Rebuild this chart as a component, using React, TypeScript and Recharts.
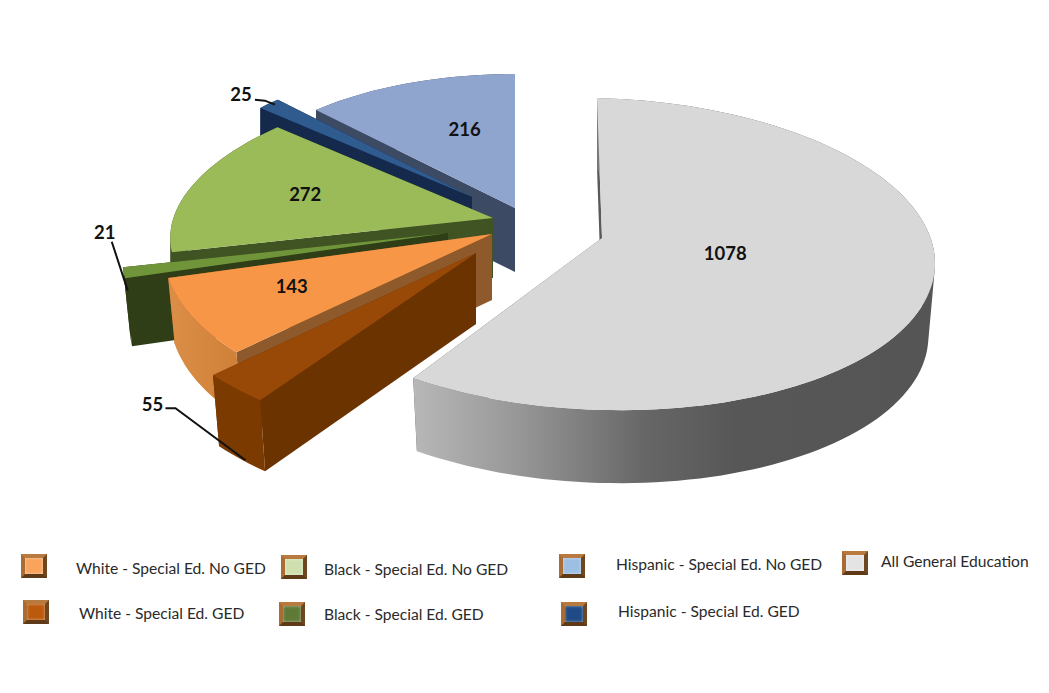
import React from 'react';
import { PieChart, Pie, Legend } from 'recharts';

// ---- data ----
const names = [
  'Hispanic - Special Ed. No GED',
  'Hispanic - Special Ed. GED',
  'Black - Special Ed. No GED',
  'Black - Special Ed. GED',
  'White - Special Ed. No GED',
  'White - Special Ed. GED',
  'All General Education',
];
const values = [216, 25, 272, 21, 143, 55, 1078];
const tableData = names.map((name, i) => ({ name, value: values[i] }));

// ---- 3D look: one projection per slice, applied to the angles the library computes ----
type Proj = {
  ax: number; ay: number; // slice tip
  cx: number; cy: number; // rim centre
  rx: number; ry: number; sx: number; sy: number; // rim ellipse and shear
  depth: number; bs: number; // wall height, foot scale
  top: string; side: string; rim: string;
};
const projections: Proj[] = [
  { ax: 515, ay: 208, cx: 515, cy: 208, rx: 292, ry: 134, sx: 0, sy: 0, depth: 64, bs: 1, top: '#8fa5ce', side: '#3c4a63', rim: '#3c4a63' },
  { ax: 472, ay: 197, cx: 472, cy: 197, rx: 285, ry: 133, sx: 0, sy: 0, depth: 60, bs: 1, top: '#2f5b8f', side: '#14294b', rim: '#14294b' },
  { ax: 493, ay: 218, cx: 493, cy: 218, rx: 321, ry: 141, sx: 34, sy: -5, depth: 60, bs: 1, top: '#9bbb59', side: '#3f5323', rim: '#3f5323' },
  { ax: 448, ay: 233, cx: 448, cy: 233, rx: 321, ry: 155, sx: 53, sy: -2, depth: 68, bs: 0.978, top: '#6f9439', side: '#2f3e17', rim: '#2f3e17' },
  { ax: 492, ay: 234, cx: 492, cy: 234, rx: 328, ry: 172.5, sx: 31.7, sy: 4.3, depth: 66, bs: 0.98, top: '#f79646', side: '#8f5a2b', rim: 'url(#orangeWall)' },
  { ax: 476, ay: 253, cx: 476, cy: 253, rx: 344, ry: 188, sx: 26, sy: 14, depth: 71, bs: 0.977, top: '#984807', side: '#6b3300', rim: '#7a3a00' },
  { ax: 602, ay: 238, cx: 600, cy: 254, rx: 335, ry: 156, sx: -3, sy: 8, depth: 73, bs: 0.98, top: '#d8d8d8', side: '#5a5a5a', rim: 'url(#grayWall)' },
];

type LabelSpec = { f: number; dx: number; dy: number; leader?: [number, number][] };
const labelSpecs: LabelSpec[] = [
  { f: 0.63, dx: 17, dy: 0 },
  { f: 1, dx: -28, dy: -10, leader: [[-14, -4], [-4, -3], [6, 1]] },
  { f: 0.62, dx: -1, dy: -4 },
  { f: 1, dx: -19, dy: -41, leader: [[-12, -31], [4, 18]] },
  { f: 0.67, dx: 0, dy: -4 },
  { f: 1, dx: -83, dy: 16, leader: [[-70, 20], [-60, 20], [10, 72]] },
  { f: 0.38, dx: 2, dy: -12 },
];

const legendBoxes: Record<string, { bx: number; by: number; tx: number; ty: number; fill: string }> = {
  'White - Special Ed. No GED': { bx: 21, by: 554, tx: 76, ty: 568, fill: '#f9a45c' },
  'Black - Special Ed. No GED': { bx: 281, by: 555, tx: 324, ty: 569, fill: '#cfe0ae' },
  'Hispanic - Special Ed. No GED': { bx: 559, by: 554, tx: 616, ty: 564, fill: '#9dbfe3' },
  'All General Education': { bx: 842, by: 551, tx: 881, ty: 561, fill: '#e4e4e4' },
  'White - Special Ed. GED': { bx: 23, by: 600, tx: 79, ty: 613, fill: '#bb5a0c' },
  'Black - Special Ed. GED': { bx: 279, by: 602, tx: 324, ty: 614, fill: '#5f7a37' },
  'Hispanic - Special Ed. GED': { bx: 561, by: 602, tx: 618, ty: 611, fill: '#1f4a85' },
};

const FONT = 'Lato, "Noto Sans", sans-serif';
const RAD = Math.PI / 180;

function rimPoint(p: Proj, deg: number, f = 1): [number, number] {
  const c = Math.cos(deg * RAD);
  const s = Math.sin(deg * RAD);
  return [
    p.ax + (p.cx - p.ax) * f + (p.rx * c + p.sx * s) * f,
    p.ay + (p.cy - p.ay) * f + (-p.ry * s + p.sy * c) * f,
  ];
}
function foot(p: Proj, pt: [number, number]): [number, number] {
  return [p.ax + (pt[0] - p.ax) * p.bs, pt[1] + p.depth];
}
function toPath(pts: [number, number][]) {
  return pts.map((q, i) => `${i ? 'L' : 'M'}${q[0].toFixed(1)} ${q[1].toFixed(1)}`).join(' ') + ' Z';
}
// The wall folds at the rim's extreme, so each strip is wound the same way to keep it filled.
function wallPath(p: Proj, rim: [number, number][]) {
  const parts: string[] = [];
  for (let i = 0; i + 1 < rim.length; i++) {
    const quad: [number, number][] = [rim[i], rim[i + 1], foot(p, rim[i + 1]), foot(p, rim[i])];
    let area = 0;
    quad.forEach((q, k) => {
      const r = quad[(k + 1) % 4];
      area += q[0] * r[1] - r[0] * q[1];
    });
    parts.push(toPath(area < 0 ? [...quad].reverse() : quad));
  }
  return parts.join(' ');
}

function Slice3D(props: any) {
  const idx = names.indexOf(props.name ?? props.payload?.name);
  const p = projections[idx];
  if (!p) return null;
  const a0 = props.startAngle as number;
  const a1 = props.endAngle as number;
  const n = Math.max(2, Math.ceil(Math.abs(a1 - a0) / 2));
  const rim: [number, number][] = [];
  for (let i = 0; i <= n; i++) rim.push(rimPoint(p, a0 + ((a1 - a0) * i) / n));
  const apex: [number, number] = [p.ax, p.ay];
  const footApex = foot(p, apex);
  const first = rim[0];
  const last = rim[rim.length - 1];
  return (
    <g>
      <defs>
        <linearGradient id="grayWall" gradientUnits="userSpaceOnUse" x1="411" y1="0" x2="935" y2="0">
          <stop offset="0" stopColor="#b8b8b8" />
          <stop offset="0.2" stopColor="#989898" />
          <stop offset="0.45" stopColor="#666666" />
          <stop offset="0.62" stopColor="#575757" />
          <stop offset="1" stopColor="#555555" />
        </linearGradient>
        <linearGradient id="orangeWall" gradientUnits="userSpaceOnUse" x1="165" y1="0" x2="240" y2="0">
          <stop offset="0" stopColor="#dc8f48" />
          <stop offset="1" stopColor="#cf8038" />
        </linearGradient>
      </defs>
      <path d={toPath([first, apex, footApex, foot(p, first)])} fill={p.side} />
      <path d={toPath([last, apex, footApex, foot(p, last)])} fill={p.side} />
      <path d={wallPath(p, rim)} fill={p.rim} />
      <path d={toPath([apex, ...rim])} fill={p.top} />
    </g>
  );
}

function SliceLabel(props: any) {
  const idx = names.indexOf(props.name ?? props.payload?.name);
  const p = projections[idx];
  const spec = labelSpecs[idx];
  if (!p || !spec) return null;
  const mid = (props.startAngle + props.endAngle) / 2;
  const [x, y] = rimPoint(p, mid, spec.f);
  return (
    <g>
      {spec.leader && (
        <polyline
          points={spec.leader.map((q) => `${x + q[0]},${y + q[1]}`).join(' ')}
          fill="none"
          stroke="#111"
          strokeWidth={2}
        />
      )}
      <text
        x={x + spec.dx}
        y={y + spec.dy}
        textAnchor="middle"
        dominantBaseline="central"
        fontFamily={FONT}
        fontWeight={700}
        fontSize={18.5}
        fill="#111"
      >
        {props.value}
      </text>
    </g>
  );
}

function Swatch({ x, y, fill }: { x: number; y: number; fill: string }) {
  return (
    <div
      style={{
        position: 'absolute',
        left: x,
        top: y,
        width: 26,
        height: 24,
        boxSizing: 'border-box',
        borderStyle: 'solid',
        borderWidth: 4,
        borderColor: '#b87a3f #6e4620 #5e3a18 #a86c34',
      }}
    >
      <div
        style={{
          width: '100%',
          height: '100%',
          background: fill,
          boxShadow: 'inset 0 0 3px rgba(255,255,255,0.55)',
        }}
      />
    </div>
  );
}

function LegendBlock(props: any) {
  const items = props.payload ?? [];
  return (
    <div style={{ position: 'relative', width: 1049, height: 693, pointerEvents: 'none' }}>
      {items.map((it: any) => {
        const b = legendBoxes[it.value];
        if (!b) return null;
        return (
          <React.Fragment key={it.value}>
            <Swatch x={b.bx} y={b.by} fill={b.fill} />
            <span
              style={{
                position: 'absolute',
                left: b.tx,
                top: b.ty - 11,
                lineHeight: '22px',
                fontFamily: FONT,
                fontSize: 15.6,
                color: '#2a2a2a',
                whiteSpace: 'nowrap',
              }}
            >
              {it.value}
            </span>
          </React.Fragment>
        );
      })}
    </div>
  );
}

export default function App() {
  return (
    <div style={{ position: 'absolute', left: 0, top: 0, width: 1049, height: 693, background: '#fff' }}>
      <PieChart width={1049} height={693} margin={{ top: 0, right: 0, bottom: 0, left: 0 }}>
        <Pie
          data={tableData}
          dataKey="value"
          nameKey="name"
          cx={515}
          cy={250}
          outerRadius={200}
          startAngle={90}
          endAngle={450}
          stroke="none"
          isAnimationActive={false}
          shape={Slice3D}
          label={SliceLabel}
          labelLine={false}
        />
        <Legend
          content={LegendBlock}
          verticalAlign="top"
          wrapperStyle={{ position: 'absolute', left: 0, top: 0, width: 1049, height: 0 }}
        />
      </PieChart>
    </div>
  );
}
